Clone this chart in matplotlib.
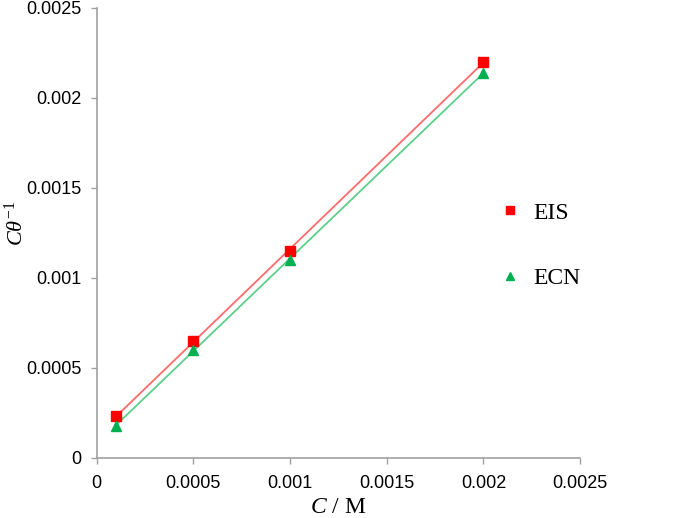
import numpy as np
import matplotlib
matplotlib.use("Agg")
import matplotlib.pyplot as plt

conc = [0.0001, 0.0005, 0.001, 0.002]
eis = [0.00023, 0.00065, 0.00115, 0.0022]
ecn = [0.00018, 0.0006, 0.0011, 0.00214]
xticks = [0, 0.0005, 0.001, 0.0015, 0.002, 0.0025]
xticklabels = ["0", "0.0005", "0.001", "0.0015", "0.002", "0.0025"]
yticks = [0, 0.0005, 0.001, 0.0015, 0.002, 0.0025]
yticklabels = ["0", "0.0005", "0.001", "0.0015", "0.002", "0.0025"]

plt.rcParams['font.family'] = ['Liberation Serif', 'DejaVu Serif']
plt.rcParams['mathtext.fontset'] = 'custom'
plt.rcParams['mathtext.rm'] = 'Liberation Serif'
plt.rcParams['mathtext.it'] = 'Liberation Serif:italic'

fig = plt.figure(figsize=(6.85, 5.18), dpi=100)
ax = fig.add_axes([0.141, 0.116, 0.706, 0.869])

x = np.array(conc)
for ys, mcol, lcol, mk, lab in [(eis, '#FF0000', '#FF6B6B', 's', 'EIS'),
                                 (ecn, '#00B050', '#5CD08A', '^', 'ECN')]:
    p = np.polyfit(x, ys, 1)
    xs = np.array([x.min(), x.max()])
    ax.plot(xs, np.polyval(p, xs), color=lcol, lw=1.3, zorder=2)
    ax.plot(x, ys, linestyle='none', marker=mk, color=mcol, markersize=7.5,
            label=lab, zorder=3)

ax.set_xlim(0, 0.0025)
ax.set_ylim(0, 0.0025)
ax.set_xticks(xticks)
ax.set_xticklabels(xticklabels, family=['Liberation Sans', 'DejaVu Sans'])
ax.set_yticks(yticks)
ax.set_yticklabels(yticklabels, family=['Liberation Sans', 'DejaVu Sans'])
ax.tick_params(labelsize=13, color='#A0A0A0', length=4, width=1, direction='out')
ax.tick_params(axis='y', pad=7)
ax.tick_params(axis='x', pad=8)
for s in ['top', 'right']:
    ax.spines[s].set_visible(False)
for s in ['left', 'bottom']:
    ax.spines[s].set_color('#A0A0A0')
    ax.spines[s].set_linewidth(1.2)

ax.set_xlabel(r'$C$ / M', fontsize=17, labelpad=4)
ax.set_ylabel(r'$C\theta^{-1}$', fontsize=16)
ax.yaxis.label.set_va('center')
ax.yaxis.set_label_coords(-0.167, 0.52)

leg = ax.legend(loc='center left', bbox_to_anchor=(0.835, 0.472), frameon=False,
                fontsize=17, handletextpad=0.6, labelspacing=1.85, handlelength=0.8,
                borderpad=0, borderaxespad=0, markerscale=0.8)

fig.savefig('out.png', dpi=100)
